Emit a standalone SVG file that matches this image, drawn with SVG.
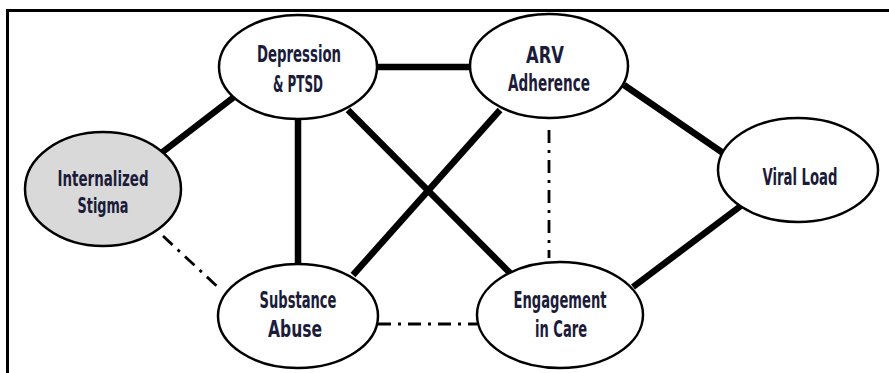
<svg xmlns="http://www.w3.org/2000/svg" width="889" height="373" viewBox="0 0 889 373">
  <style>
    .frame { fill: none; stroke: #000; stroke-width: 3; }
    .node { fill: #fff; stroke: #000; stroke-width: 2.5; }
    .node.shaded { fill: #d9d9d9; }
    .label { font-family: "Liberation Sans Narrow", "DejaVu Sans Condensed", "Liberation Sans", sans-serif; font-weight: bold; font-size: 23px; fill: #1b1b3a; text-anchor: middle; }
    .label.tight { font-size: 22px; }
    .strong { stroke: #000; stroke-width: 6.5; fill: none; }
    .weak { stroke: #000; stroke-width: 2.8; fill: none; stroke-dasharray: 13 7 3 7; }
  </style>
  <rect width="889" height="373" fill="#fff"/>
  <!-- outer border (top and left edges) -->
  <path class="frame" d="M7.5,373 V10.5 H889"/>

  <g id="connectors">
    <line class="strong" x1="160" y1="154" x2="234" y2="97"/>
    <line class="strong" x1="376" y1="67" x2="471" y2="67"/>
    <line class="strong" x1="298" y1="119" x2="298" y2="264"/>
    <line class="strong" x1="348" y1="110" x2="510" y2="273"/>
    <line class="strong" x1="500" y1="110" x2="353" y2="275"/>
    <line class="strong" x1="624" y1="85" x2="726" y2="155"/>
    <line class="strong" x1="742" y1="205" x2="633" y2="287"/>
    <line class="weak" x1="549" y1="130" x2="549" y2="258"/>
    <line class="weak" x1="163" y1="236" x2="221" y2="290"/>
    <line class="weak" x1="378" y1="324" x2="477" y2="324"/>
  </g>

  <g id="depression">
    <ellipse class="node" cx="298" cy="67" rx="79" ry="52"/>
    <text class="label" x="299" y="62" textLength="84" lengthAdjust="spacingAndGlyphs">Depression</text>
    <text class="label" x="298" y="92" textLength="50" lengthAdjust="spacingAndGlyphs">&amp; PTSD</text>
  </g>

  <g id="arv-adherence">
    <ellipse class="node" cx="549" cy="66" rx="79" ry="52"/>
    <text class="label" x="545" y="63" textLength="38" lengthAdjust="spacingAndGlyphs">ARV</text>
    <text class="label" x="549" y="91" textLength="82" lengthAdjust="spacingAndGlyphs">Adherence</text>
  </g>

  <g id="viral-load">
    <ellipse class="node" cx="798" cy="170" rx="80" ry="52"/>
    <text class="label" x="800" y="185" textLength="75" lengthAdjust="spacingAndGlyphs">Viral Load</text>
  </g>

  <g id="internalized-stigma">
    <ellipse class="node shaded" cx="103" cy="189" rx="78" ry="57"/>
    <text class="label tight" x="103" y="186" textLength="91" lengthAdjust="spacingAndGlyphs">Internalized</text>
    <text class="label tight" x="103" y="213" textLength="51" lengthAdjust="spacingAndGlyphs">Stigma</text>
  </g>

  <g id="substance-abuse">
    <ellipse class="node" cx="298" cy="316" rx="80" ry="52"/>
    <text class="label" x="298" y="308" textLength="77" lengthAdjust="spacingAndGlyphs">Substance</text>
    <text class="label" x="295" y="337" textLength="54" lengthAdjust="spacingAndGlyphs">Abuse</text>
  </g>

  <g id="engagement">
    <ellipse class="node" cx="560" cy="315" rx="83" ry="53"/>
    <text class="label" x="560" y="308" textLength="93" lengthAdjust="spacingAndGlyphs">Engagement</text>
    <text class="label" x="561" y="337" textLength="52" lengthAdjust="spacingAndGlyphs">in Care</text>
  </g>
</svg>
